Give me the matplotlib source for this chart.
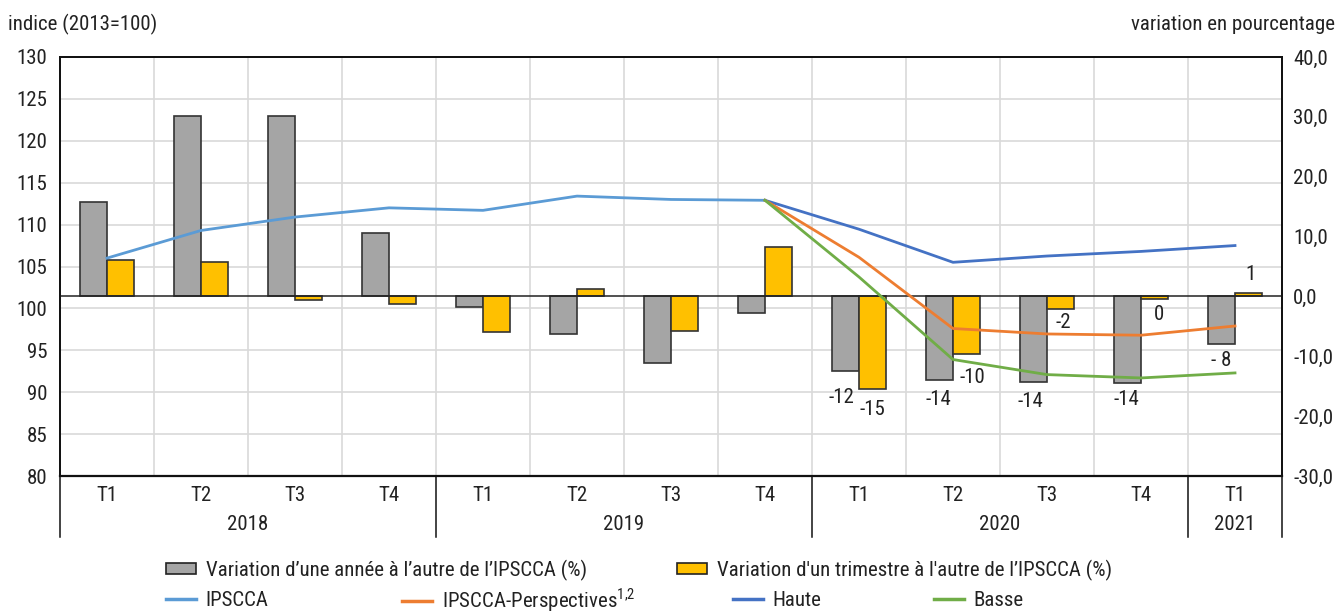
import matplotlib
matplotlib.use("Agg")
import matplotlib.pyplot as plt
import matplotlib.transforms as mtransforms
from matplotlib.patches import Patch
from matplotlib.lines import Line2D
from matplotlib import font_manager
import numpy as np

_avail = {f.name for f in font_manager.fontManager.ttflist}
_prefs = ['Roboto Condensed', 'Liberation Sans Narrow', 'DejaVu Sans Condensed', 'Roboto']
_fam = [f for f in _prefs if f in _avail] + ['DejaVu Sans']
plt.rcParams['font.family'] = _fam
plt.rcParams['mathtext.fontset'] = 'custom'
plt.rcParams['mathtext.rm'] = _fam[0]

# ---------------- data ----------------
quarters = ["T1", "T2", "T3", "T4", "T1", "T2", "T3", "T4", "T1", "T2", "T3", "T4", "T1"]
years = ["2018", "2019", "2020", "2021"]
year_span = [(0, 3), (4, 7), (8, 11), (12, 12)]

yoy = [15.8, 30.1, 30.1, 10.6, -1.8, -6.3, -11.1, -2.8, -12.4, -14.0, -14.3, -14.4, -7.9]
qoq = [6.1, 5.8, -0.6, -1.2, -6.0, 1.2, -5.7, 8.2, -15.4, -9.6, -2.1, -0.45, 0.6]

ipscca_x = [0, 1, 2, 3, 4, 5, 6, 7]
ipscca = [106.0, 109.3, 110.9, 112.0, 111.7, 113.4, 113.0, 112.9]

proj_x = [7, 8, 9, 10, 11, 12]
perspectives = [112.9, 106.1, 97.6, 96.95, 96.8, 97.9]
haute = [112.9, 109.45, 105.5, 106.25, 106.8, 107.5]
basse = [112.9, 103.75, 93.9, 92.1, 91.7, 92.3]

label_idx = [8, 9, 10, 11, 12]
yoy_labels = ["-12", "-14", "-14", "-14", "- 8"]
qoq_labels = ["-15", "-10", "-2", "0", "1"]

left_ticks = [80, 85, 90, 95, 100, 105, 110, 115, 120, 125, 130]
right_ticks = [-30, -20, -10, 0, 10, 20, 30, 40]

# ---------------- style ----------------
W, H = 1342, 614
FS = 15
GRAY = "#a5a5a5"
YELLOW = "#ffc000"
C_IPSCCA = "#5b9bd5"
C_PERSP = "#ed7d31"
C_HAUTE = "#4472c4"
C_BASSE = "#70ad47"
GRID = "#d9d9d9"
TXT = "#222222"

fig = plt.figure(figsize=(W / 100, H / 100), dpi=100)
left, right, top, bottom = 60, 1282, 57, 476
ax = fig.add_axes([left / W, 1 - bottom / H, (right - left) / W, (bottom - top) / H])
ax2 = ax.twinx()
ax3 = ax.twinx()

n = len(quarters)
x = np.arange(n)
for a in (ax, ax2, ax3):
    a.set_xlim(-0.5, n - 0.5)
ax.set_ylim(80, 130)
ax3.set_ylim(80, 130)
ax2.set_ylim(-30, 40)

# grid
ax.set_yticks(left_ticks)
ax.set_yticklabels([str(t) for t in left_ticks])
ax.yaxis.grid(True, color=GRID, lw=1.2)
for b in np.arange(0.5, n - 0.5, 1):
    ax.axvline(b, color=GRID, lw=1.2, zorder=0)
ax.set_axisbelow(True)

# bars
bw = 0.29
ax2.bar(x - bw / 2, yoy, width=bw, color=GRAY, edgecolor="#333333", lw=1.2, zorder=2)
ax2.bar(x + bw / 2, qoq, width=bw, color=YELLOW, edgecolor="#333333", lw=1.2, zorder=2)
ax2.axhline(0, color="#222222", lw=1.1, zorder=3)

# lines
lw = 2.0
ax3.plot(ipscca_x, ipscca, color=C_IPSCCA, lw=lw)
ax3.plot(proj_x, haute, color=C_HAUTE, lw=lw)
ax3.plot(proj_x, perspectives, color=C_PERSP, lw=lw)
ax3.plot(proj_x, basse, color=C_BASSE, lw=lw)

# data labels
yoy_off = [(-3, -19), (-1, -14), (-2, -14), (-1, -12), (0, -12)]
qoq_off = [(0, -15), (4, -17), (2, -10), (3, -11), (1, 13)]
for k, i in enumerate(label_idx):
    ax2.annotate(yoy_labels[k], (x[i] - bw / 2, yoy[i]), xytext=yoy_off[k],
                 textcoords="offset points", ha="center", va="center",
                 fontsize=FS, color=TXT, zorder=5)
    ax2.annotate(qoq_labels[k], (x[i] + bw / 2, qoq[i]), xytext=qoq_off[k],
                 textcoords="offset points", ha="center", va="center",
                 fontsize=FS, color=TXT, zorder=5)

# ticks
ax.tick_params(axis="y", length=0, pad=9, labelsize=FS, labelcolor=TXT)
ax2.set_yticks(right_ticks)
ax2.set_yticklabels([f"{t:.1f}".replace(".", ",") for t in right_ticks])
ax2.tick_params(axis="y", length=0, pad=8, labelsize=FS, labelcolor=TXT)
ax3.set_yticks([])
ax3.tick_params(axis="y", length=0, labelright=False)
ax.set_xticks(x)
ax.set_xticklabels(quarters)
ax.tick_params(axis="x", length=0, pad=7, labelsize=FS, labelcolor=TXT)
for a in (ax2, ax3):
    a.tick_params(axis="x", length=0, labelbottom=False)

for a in (ax, ax2, ax3):
    for s in a.spines.values():
        s.set_color("#111111")
        s.set_linewidth(1.1)
ax.spines["bottom"].set_linewidth(1.6)

# year labels & separators
trans = mtransforms.blended_transform_factory(ax.transData, ax.transAxes)
sep_bottom = -(537 - 476) / (bottom - top)
year_y = -(525 - 476) / (bottom - top)
for yr, (a0, a1) in zip(years, year_span):
    ax.text((a0 + a1) / 2, year_y, yr, transform=trans, ha="center", va="center",
            fontsize=FS, color=TXT)
seps = [-0.5] + [s[1] + 0.5 for s in year_span]
for s in seps:
    ax.plot([s, s], [0, sep_bottom], transform=trans, color="#111111", lw=1.1,
            clip_on=False)

# axis titles
fig.text(8 / W, 1 - 24 / H, "indice (2013=100)", ha="left", va="center", fontsize=FS, color=TXT)
fig.text(1335 / W, 1 - 24 / H, "variation en pourcentage", ha="right", va="center",
         fontsize=FS, color=TXT)

# legend entries
entries = [
    (Patch(facecolor=GRAY, edgecolor="#222222", lw=1.2), "Variation d’une année à l’autre de l’IPSCCA (%)", 166, 570),
    (Patch(facecolor=YELLOW, edgecolor="#222222", lw=1.2), "Variation d'un trimestre à l'autre de l’IPSCCA (%)", 677, 570),
    (Line2D([], [], color=C_IPSCCA, lw=2.5), "IPSCCA", 166, 600),
    (Line2D([], [], color=C_PERSP, lw=2.5), r"IPSCCA-Perspectives$^{\mathregular{1{,}2}}$", 402, 600),
    (Line2D([], [], color=C_HAUTE, lw=2.5), "Haute", 733, 600),
    (Line2D([], [], color=C_BASSE, lw=2.5), "Basse", 934, 600),
]
for h, lab, px, py in entries:
    leg = fig.legend([h], [lab], loc="center left", bbox_to_anchor=(px / W, 1 - py / H),
                     frameon=False, fontsize=FS, borderpad=0, borderaxespad=0,
                     handlelength=1.45, handleheight=0.45, handletextpad=0.45,
                     labelcolor=TXT)

fig.savefig("out.png", dpi=100)
